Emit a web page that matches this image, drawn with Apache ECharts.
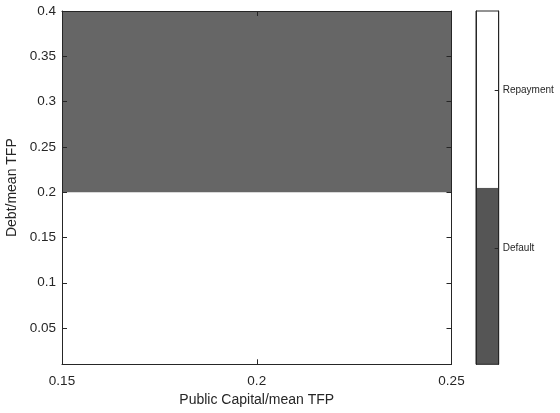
<!DOCTYPE html>
<html>
<head>
<meta charset="utf-8">
<script src="https://cdn.jsdelivr.net/npm/echarts@6/dist/echarts.min.js"></script>
<style>html,body{margin:0;padding:0;background:#fff}#c{width:560px;height:413px}</style>
</head>
<body>
<div id="c"></div>
<script>
// Regions of the policy map: [xStart, xEnd, yStart, yEnd, state]
const regionXStart = [0.15, 0.15];
const regionXEnd = [0.25, 0.25];
const regionYStart = [0.01, 0.2];
const regionYEnd = [0.2, 0.4];
const regionState = ['Repayment', 'Default'];

const xTicks = [0.15, 0.2, 0.25];
const yTicks = [0.05, 0.1, 0.15, 0.2, 0.25, 0.3, 0.35, 0.4];

// Colorbar: two equal bands and their label positions
const cbarStates = ['Default', 'Repayment'];
const cbarBand = [0.5, 0.5];
const cbarTickPos = [0.329, 0.777];
const cbarTickLabels = ['Default', 'Repayment'];

const stateColor = { Default: '#666666', Repayment: '#ffffff' };
const cbarColor = { Default: '#555555', Repayment: '#ffffff' };

const axisCol = '#262626';
const font = 'Liberation Sans, Arial, sans-serif';

const regionData = regionXStart.map((x0, i) => [x0, regionXEnd[i], regionYStart[i], regionYEnd[i], regionState[i]]);

const chart = echarts.init(document.getElementById('c'), null, { renderer: 'canvas' });
chart.setOption({
  animation: false,
  backgroundColor: '#fff',
  grid: [
    { left: 62, top: 11, width: 389.5, height: 353.3, show: false, containLabel: false, outerBoundsMode: 'none' },
    { left: 476, top: 11, width: 22.7, height: 353.3, show: false, containLabel: false, outerBoundsMode: 'none' }
  ],
  xAxis: [
    {
      gridIndex: 0, type: 'value', min: 0.15, max: 0.25, position: 'bottom', z: 10,
      name: 'Public Capital/mean TFP', nameLocation: 'middle', nameGap: 29,
      nameTextStyle: { color: axisCol, fontSize: 14, fontFamily: font },
      axisLine: { show: true, onZero: false, lineStyle: { color: axisCol, width: 1 } },
      axisTick: { show: true, inside: true, length: 5, customValues: xTicks, lineStyle: { color: axisCol } },
      axisLabel: { customValues: xTicks, color: axisCol, fontSize: 13.5, fontFamily: font, margin: 10, formatter: v => String(v) },
      splitLine: { show: false }
    },
    {
      gridIndex: 0, type: 'value', min: 0.15, max: 0.25, position: 'top', z: 10,
      axisLine: { show: true, onZero: false, lineStyle: { color: axisCol, width: 1 } },
      axisTick: { show: true, inside: true, length: 5, customValues: xTicks, lineStyle: { color: axisCol } },
      axisLabel: { show: false }, splitLine: { show: false }
    },
    {
      gridIndex: 1, type: 'category', data: ['c'], show: false
    }
  ],
  yAxis: [
    {
      gridIndex: 0, type: 'value', min: 0.01, max: 0.4, position: 'left', z: 10,
      name: 'Debt/mean TFP', nameLocation: 'middle', nameGap: 37,
      nameTextStyle: { color: axisCol, fontSize: 14, fontFamily: font },
      axisLine: { show: true, onZero: false, lineStyle: { color: axisCol, width: 1 } },
      axisTick: { show: true, inside: true, length: 5, customValues: yTicks, lineStyle: { color: axisCol } },
      axisLabel: { customValues: yTicks, color: axisCol, fontSize: 13.5, fontFamily: font, margin: 6, formatter: v => String(v) },
      splitLine: { show: false }
    },
    {
      gridIndex: 0, type: 'value', min: 0.01, max: 0.4, position: 'right', z: 10,
      axisLine: { show: true, onZero: false, lineStyle: { color: axisCol, width: 1 } },
      axisTick: { show: true, inside: true, length: 5, customValues: yTicks, lineStyle: { color: axisCol } },
      axisLabel: { show: false }, splitLine: { show: false }
    },
    {
      gridIndex: 1, type: 'value', min: 0, max: 1, position: 'right', z: 10,
      axisLine: { show: true, onZero: false, lineStyle: { color: axisCol, width: 1 } },
      axisTick: { show: true, inside: true, length: 4, customValues: cbarTickPos, lineStyle: { color: axisCol } },
      axisLabel: {
        customValues: cbarTickPos, color: axisCol, fontSize: 10, fontFamily: font, margin: 4,
        formatter: v => { const i = cbarTickPos.indexOf(v); return i >= 0 ? cbarTickLabels[i] : ''; }
      },
      splitLine: { show: false }
    },
    {
      gridIndex: 1, type: 'value', min: 0, max: 1, position: 'left', z: 10,
      axisLine: { show: true, onZero: false, lineStyle: { color: axisCol, width: 1 } },
      axisTick: { show: false }, axisLabel: { show: false }, splitLine: { show: false }
    }
  ],
  series: [
    {
      type: 'custom', xAxisIndex: 0, yAxisIndex: 0, z: 1,
      data: regionData,
      renderItem: (params, api) => {
        const p0 = api.coord([api.value(0), api.value(3)]);
        const p1 = api.coord([api.value(1), api.value(2)]);
        const st = regionData[params.dataIndex][4];
        return {
          type: 'rect',
          shape: { x: p0[0], y: p0[1], width: p1[0] - p0[0], height: p1[1] - p0[1] },
          style: { fill: stateColor[st] }
        };
      }
    },
    ...cbarStates.map((s, i) => ({
      type: 'bar', xAxisIndex: 2, yAxisIndex: 2, stack: 'cb', barWidth: '100%',
      data: [cbarBand[i]], itemStyle: { color: cbarColor[s] }, z: 1
    })),
    {
      type: 'line', xAxisIndex: 1, yAxisIndex: 1, data: [], silent: true
    }
  ],
  graphic: [
    { type: 'rect', shape: { x: 476, y: 11, width: 22.7, height: 353.3 }, style: { fill: 'none', stroke: axisCol, lineWidth: 1 }, z: 100 }
  ]
});
</script>
</body>
</html>
